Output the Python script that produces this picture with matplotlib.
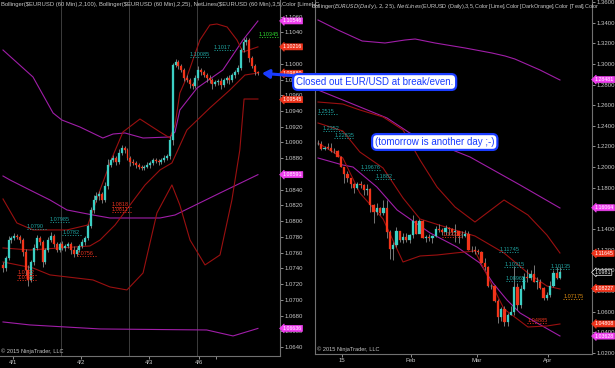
import matplotlib
matplotlib.use('Agg')
import matplotlib.pyplot as plt
from matplotlib.patches import Rectangle

# ---- 60 min EUR/USD (4/1 .. 4/7) ----
h_open0 = 1.07440
h_close = [1.07404, 1.07532, 1.07760, 1.07786, 1.07811, 1.07800, 1.07760, 1.07608, 1.07379, 1.07252,
           1.07481, 1.07659, 1.07786, 1.07735, 1.07481, 1.07633, 1.07760, 1.07811, 1.07710, 1.07633,
           1.07710, 1.07659, 1.07684, 1.07710, 1.07633, 1.07582, 1.07633, 1.07684, 1.07735, 1.07786,
           1.07939, 1.08142, 1.08269, 1.08320, 1.08345, 1.08269, 1.08447, 1.08714, 1.08778, 1.08803,
           1.08752, 1.08867, 1.08930, 1.08905, 1.08803, 1.08752, 1.08740, 1.08714, 1.08689, 1.08676,
           1.08690, 1.08714, 1.08739, 1.08778, 1.08765, 1.08752, 1.08778, 1.08803, 1.08828, 1.09032,
           1.09986, 1.10024, 1.09973, 1.09922, 1.09820, 1.09795, 1.09744, 1.09719, 1.09820, 1.09922,
           1.09897, 1.09858, 1.09820, 1.09795, 1.09744, 1.09769, 1.09780, 1.09731, 1.09795, 1.09820,
           1.09795, 1.09858, 1.09897, 1.09947, 1.10176, 1.10278, 1.10303, 1.10075, 1.09973, 1.09897,
           1.09880]
h_wick_up = [4, 3, 5, 3, 4, 3, 2, 3, 4, 6, 3, 5, 4, 3, 2, 3, 4, 5, 3, 2,
             3, 4, 2, 3, 3, 5, 4, 3, 4, 2, 3, 4, 6, 5, 4, 3, 5, 8, 3, 4,
             3, 5, 4, 3, 3, 2, 4, 3, 2, 3, 3, 4, 3, 2, 3, 2, 3, 4, 3, 5,
             3, 4, 3, 3, 2, 4, 3, 2, 4, 5, 3, 3, 2, 4, 3, 2, 3, 4, 3, 2,
             4, 3, 3, 4, 3, 5, 4, 3, 2, 3, 1]
h_wick_dn = [5, 4, 3, 4, 2, 3, 4, 5, 6, 8, 3, 4, 3, 4, 6, 3, 2, 3, 4, 3,
             2, 3, 4, 3, 5, 4, 3, 2, 3, 4, 3, 2, 4, 3, 5, 4, 3, 4, 3, 2,
             4, 3, 2, 4, 3, 5, 3, 4, 3, 2, 3, 2, 4, 3, 2, 4, 3, 2, 3, 4,
             7, 3, 4, 3, 4, 3, 5, 4, 3, 2, 4, 3, 5, 4, 6, 3, 4, 5, 3, 4,
             5, 3, 4, 3, 2, 3, 4, 5, 3, 4, 2]
h_date_ticks = [3.5, 27.6, 51.6, 69.3, 75.3]
h_date_labels = ['4/1', '4/2', '4/3', '4/6', '']
h_session_breaks = [20.5, 44.5, 68.6]

# bands: (bar index, price)
h_bb100_up = [(0, 1.10176), (10.6, 1.09833), (17.7, 1.09375), (20.8, 1.09286), (27.2, 1.09197),
              (35.3, 1.09057), (38.9, 1.09108), (43.1, 1.09121), (49.5, 1.09057), (59.0, 1.09070),
              (60.8, 1.09134), (62.5, 1.09413), (68.6, 1.09693), (77.7, 1.09922), (84.8, 1.10303),
              (90.1, 1.10545)]
h_bb100_mid = [(0, 1.08574), (2.5, 1.08523), (9.5, 1.08396), (16.6, 1.08269), (22.6, 1.08142),
               (31.8, 1.08078), (37.8, 1.08040), (55.5, 1.08040), (60.8, 1.08078), (76.7, 1.08358),
               (90.1, 1.08591)]
h_bb100_lo = [(0, 1.06718), (9.5, 1.06680), (34.3, 1.06629), (60, 1.06620), (72, 1.06616),
              (81.3, 1.06540), (88.3, 1.06616), (90.1, 1.06636)]
h_bb25_up = [(0, 1.08282), (4.9, 1.07977), (10.6, 1.07888), (22.6, 1.07888), (30, 1.07951),
             (34.3, 1.08396), (38.5, 1.08802), (42.4, 1.09134), (48.4, 1.09299), (55.5, 1.09134),
             (59, 1.09057), (60.8, 1.09223), (62.5, 1.09629), (65, 1.09833), (67.1, 1.10049),
             (69.6, 1.10303), (73.1, 1.10494), (75.6, 1.10507), (79.2, 1.10469), (82.7, 1.10303),
             (84.8, 1.10150), (90.1, 1.10216)]
h_bb25_mid = [(0, 1.07659), (9.5, 1.07633), (20.1, 1.07659), (30.7, 1.07684), (34.3, 1.07760),
              (39.6, 1.07951), (44.9, 1.08206), (50.2, 1.08460), (55.5, 1.08651), (59.7, 1.08740),
              (65, 1.09159), (73.1, 1.09439), (80.2, 1.09668), (85.5, 1.09858), (90.1, 1.09884)]
h_bb25_lo = [(0, 1.07481), (10.6, 1.07404), (16.6, 1.07316), (31.8, 1.07252), (37.8, 1.07163),
             (43.8, 1.07125), (49.5, 1.07341), (54.4, 1.08104), (59.7, 1.08460), (62.5, 1.08205),
             (66.1, 1.07760), (71.4, 1.07443), (76.7, 1.07570), (80.9, 1.08269), (83.7, 1.08905),
             (85.2, 1.09553), (90.1, 1.09553)]
h_markers = [('1.10546', 'm'), ('1.10216', 'r'), ('1.09880', 'r'), ('1.09545', 'r'),
             ('1.08591', 'm'), ('1.06636', 'm')]
h_netlabels = [('1.10345', 90.5, 'lime'), ('1.1017', 74.6, 'teal'), ('1.10085', 66.0, 'teal'),
               ('1.07985', 16.5, 'teal'), ('1.0790', 8.5, 'teal'), ('1.0782', 21.0, 'teal'),
               ('1.0732', 5.0, 'red'), ('1.0725', 5.0, 'red'), ('1.0818', 38.5, 'red'),
               ('1.0811', 38.5, 'red'), ('1.0756', 26.0, 'red')]

# ---- daily EUR/USD (12/22 .. 4/7) ----
d_open0 = 1.2226
d_close = [1.2228, 1.2180, 1.2190, 1.2188, 1.2160, 1.2155, 1.2100,
           1.2003, 1.1934, 1.1890, 1.1838, 1.1793, 1.1840, 1.1827, 1.1774, 1.1788, 1.1630, 1.1565,
           1.1605, 1.1557, 1.1608, 1.1367, 1.1205, 1.1243, 1.1380, 1.1290, 1.1320, 1.1290,
           1.1345, 1.1480, 1.1348, 1.1477, 1.1315, 1.1325, 1.1317, 1.1335, 1.1400, 1.1390, 1.1370,
           1.1410, 1.1400, 1.1375, 1.1380, 1.1330, 1.1335, 1.1350, 1.1200, 1.1195,
           1.1185, 1.1175, 1.1075, 1.1030, 1.0845, 1.0850, 1.0700, 1.0550, 1.0630, 1.0495, 1.0565,
           1.0595, 1.0835, 1.0660, 1.0820, 1.0940, 1.0925, 1.0966, 1.0890, 1.0890, 1.0830, 1.0730,
           1.0760, 1.0850, 1.0970, 1.0925, 1.0988]
d_high = [1.2262, 1.2249, 1.2200, 1.2232, 1.2232, 1.2190, 1.2168,
          1.2104, 1.1970, 1.1959, 1.1898, 1.1844, 1.1852, 1.1869, 1.1840, 1.1838, 1.1800, 1.1646,
          1.1650, 1.1612, 1.1680, 1.1680, 1.1388, 1.1270, 1.1423, 1.1385, 1.1363, 1.1364,
          1.1355, 1.1535, 1.1485, 1.1498, 1.1487, 1.1347, 1.1356, 1.1340, 1.1433, 1.1449, 1.1406,
          1.1443, 1.1423, 1.1410, 1.1450, 1.1380, 1.1385, 1.1390, 1.1382, 1.1240,
          1.1237, 1.1203, 1.1185, 1.1115, 1.1040, 1.0870, 1.0860, 1.0720, 1.0645, 1.0650, 1.0588,
          1.0650, 1.1043, 1.0880, 1.0857, 1.0971, 1.1013, 1.0999, 1.1052, 1.0936, 1.0913, 1.0835,
          1.0790, 1.0900, 1.1000, 1.1036, 1.1035]
d_low = [1.2216, 1.2165, 1.2165, 1.2180, 1.2147, 1.2135, 1.2098,
         1.2000, 1.1842, 1.1855, 1.1801, 1.1754, 1.1786, 1.1802, 1.1728, 1.1726, 1.1567, 1.1460,
         1.1540, 1.1536, 1.1540, 1.1315, 1.1114, 1.1098, 1.1225, 1.1275, 1.1262, 1.1278,
         1.1265, 1.1314, 1.1355, 1.1357, 1.1317, 1.1270, 1.1280, 1.1269, 1.1322, 1.1370, 1.1340,
         1.1338, 1.1340, 1.1340, 1.1277, 1.1260, 1.1315, 1.1320, 1.1195, 1.1178,
         1.1162, 1.1155, 1.1069, 1.1000, 1.0838, 1.0818, 1.0696, 1.0493, 1.0512, 1.0462, 1.0462,
         1.0565, 1.0570, 1.0613, 1.0635, 1.0810, 1.0889, 1.0910, 1.0886, 1.0820, 1.0815, 1.0713,
         1.0712, 1.0740, 1.0840, 1.0919, 1.0920]
d_date_ticks = [7.3, 28.4, 48.5, 70.3]
d_date_labels = ['15', 'Feb', 'Mar', 'Apr']

d_bb100_up = [(0, 1.34256), (6.1, 1.33287), (13.5, 1.32221), (20.5, 1.32027), (26.6, 1.32318),
              (29.7, 1.32415), (35.8, 1.32027), (45, 1.31543), (53.2, 1.31058), (57.2, 1.30768),
              (60.2, 1.30477), (67.9, 1.29411), (74, 1.28442)]
d_bb100_mid = [(0, 1.27473), (7.6, 1.26504), (21.1, 1.24760), (28.1, 1.23300), (46.5, 1.20981),
               (61.8, 1.18268), (74, 1.16038)]
d_bb100_lo = [(0, 1.20884), (7.6, 1.20206), (10.7, 1.20011), (18, 1.18074), (24.2, 1.15845),
              (34.3, 1.13617), (42.5, 1.12260), (49.5, 1.10710), (53.5, 1.08771), (57.8, 1.07124),
              (61.8, 1.05864), (67, 1.04895), (74, 1.03636)]
d_bb25_up = [(0, 1.26310), (7.6, 1.26116), (12.8, 1.25535), (19.9, 1.24857), (26, 1.23597),
             (31.2, 1.20690), (36.4, 1.18074), (41.9, 1.16136), (48, 1.14682), (56.9, 1.16814),
             (64.2, 1.15361), (70, 1.13423), (74, 1.11679)]
d_bb25_mid = [(0, 1.24275), (7.6, 1.23500), (12.8, 1.21465), (19.9, 1.19915), (26, 1.17008),
              (31.2, 1.14973), (41.9, 1.13907), (48, 1.13326), (56.9, 1.11679), (64.2, 1.09741),
              (70, 1.08481), (74, 1.08190)]
d_bb25_lo = [(0, 1.22337), (7.6, 1.20884), (12.8, 1.17492), (19.9, 1.14973), (26, 1.10807),
             (31.2, 1.11389), (36.4, 1.11485), (41.9, 1.11679), (48, 1.11873), (56.9, 1.06253),
             (64.2, 1.04508), (70, 1.04605), (74, 1.04800)]
d_markers = [('1.28481', 'm'), ('1.16064', 'm'), ('1.11645', 'r'), ('1.0981', 'k'), ('1.08227', 'r'),
             ('1.04808', 'r'), ('1.03628', 'm')]
d_netlabels = [('1.2515', 0.0, 'teal'), ('1.2352', 1.5, 'teal'), ('1.22835', 5.0, 'teal'),
               ('1.19676', 13.0, 'teal'), ('1.1882', 17.5, 'teal'), ('1.13225', 38.0, 'red'),
               ('1.11745', 55.5, 'teal'), ('1.10315', 57.0, 'teal'), ('1.08965', 57.5, 'teal'),
               ('1.10135', 71.0, 'teal'), ('1.04885', 64.0, 'red'), ('1.07175', 75.0, 'orange')]

UP = '#3ccfc4'
DOWN = '#f2341a'
WICK = '#8a8a8a'
PURPLE = '#a01ea8'
DARKRED = '#9a1010'
GRID = '#3c3c3c'
TXT = '#c8c8c8'
LABEL_COLORS = {'teal': '#1fa3a0', 'red': '#e8321e', 'lime': '#2ed82e', 'orange': '#d98a12'}
MARKER_COLORS = {'m': ('#f040f0', 'white'), 'r': ('#f0341c', 'white'), 'k': ('black', 'white')}

plt.rcParams['font.family'] = ['Liberation Sans', 'DejaVu Sans']


def draw_candles(ax, opens, highs, lows, closes, width=0.7):
    for i, (o, h, l, c) in enumerate(zip(opens, highs, lows, closes)):
        ax.vlines(i, l, h, color=WICK, lw=0.6, zorder=3)
        col = UP if c >= o else DOWN
        body = max(abs(c - o), (highs[i] - lows[i]) * 0.04 + 1e-5)
        ax.add_patch(Rectangle((i - width / 2, min(o, c)), width, body,
                               facecolor=col, edgecolor=col, lw=0.2, zorder=4))


def draw_band(ax, pts, color):
    ax.plot([p[0] for p in pts], [p[1] for p in pts], color=color, lw=0.8, zorder=2)


def style_axes(ax, xlim, ylim, yticks, fmt):
    ax.set_facecolor('black')
    ax.set_xlim(*xlim)
    ax.set_ylim(*ylim)
    ax.yaxis.tick_right()
    ax.set_yticks(yticks)
    ax.set_yticklabels([fmt % t for t in yticks])
    ax.tick_params(axis='y', colors=TXT, labelsize=4.3, length=2, width=0.5, pad=1)
    ax.tick_params(axis='x', colors=TXT, labelsize=4.3, length=2, width=0.5, pad=1)
    ax.spines['top'].set_visible(False)
    for s in ['left', 'right', 'bottom']:
        ax.spines[s].set_color('#707070')
        ax.spines[s].set_linewidth(0.8)


def draw_markers(ax, markers):
    for txt, kind in markers:
        fc, tc = MARKER_COLORS[kind]
        ec = 'white' if kind == 'k' else fc
        ax.annotate(txt, xy=(1.0, float(txt)), xycoords=ax.get_yaxis_transform(),
                    xytext=(2.0, 0), textcoords='offset points', va='center', ha='left',
                    fontsize=3.75, color=tc, annotation_clip=False, zorder=10,
                    bbox=dict(boxstyle='larrow,pad=0.1', fc=fc, ec=ec, lw=0.5))


def draw_netlabels(ax, labels, length):
    for txt, x, col in labels:
        val = float(txt)
        c = LABEL_COLORS[col]
        ax.text(x, val, txt, color=c, fontsize=4.0, ha='left', va='bottom', zorder=6)
        ax.plot([x, x + length], [val, val], ls=':', color=c, lw=0.7, zorder=6)


fig = plt.figure(figsize=(6.15, 3.68), dpi=100, facecolor='black')

# ----- left: 60 minute chart -----
ax1 = fig.add_axes([0 / 615, 12 / 368, 280 / 615, 356 / 368])
ax1.set_zorder(5)
style_axes(ax1, (-1.06, 97.9), (1.06285, 1.10812),
           [1.0640 + 0.002 * k for k in range(22)], '%.4f')
ax1.spines['left'].set_visible(False)
h_open = [h_open0] + h_close[:-1]
h_high = [max(o, c) + u * 0.0001 for o, c, u in zip(h_open, h_close, h_wick_up)]
h_low = [min(o, c) - d * 0.0001 for o, c, d in zip(h_open, h_close, h_wick_dn)]
for xb in h_session_breaks:
    ax1.axvline(xb, color=GRID, lw=0.7, zorder=1)
for pts, col in [(h_bb100_up, PURPLE), (h_bb100_mid, PURPLE), (h_bb100_lo, PURPLE),
                 (h_bb25_up, DARKRED), (h_bb25_mid, DARKRED), (h_bb25_lo, DARKRED)]:
    draw_band(ax1, pts, col)
draw_candles(ax1, h_open, h_high, h_low, h_close)
draw_netlabels(ax1, h_netlabels, 7)
draw_markers(ax1, h_markers)
ax1.set_xticks(h_date_ticks)
ax1.set_xticklabels(h_date_labels)
ax1.text(0.003, 0.995, 'Bollinger($EURUSD (60 Min),2,100), Bollinger($EURUSD (60 Min),2,25), '
         'NetLines($EURUSD (60 Min),3,5,Color [Lime],C',
         transform=ax1.transAxes, fontsize=4.25, color=TXT, va='top', ha='left', clip_on=False)
ax1.text(0.003, 0.006, '\u00a9 2015 NinjaTrader, LLC', transform=ax1.transAxes,
         fontsize=4.1, color=TXT, va='bottom', ha='left')

# ----- right: daily chart -----
ax2 = fig.add_axes([315 / 615, 14 / 368, 277 / 615, 354 / 368])
style_axes(ax2, (-0.92, 83.8), (1.01891, 1.36194),
           [1.02 + 0.02 * k for k in range(18)], '%.4f')
d_open = [d_open0] + d_close[:-1]
for pts, col in [(d_bb100_up, PURPLE), (d_bb100_mid, PURPLE), (d_bb100_lo, PURPLE),
                 (d_bb25_up, DARKRED), (d_bb25_mid, DARKRED), (d_bb25_lo, DARKRED)]:
    draw_band(ax2, pts, col)
draw_candles(ax2, d_open, d_high, d_low, d_close)
draw_netlabels(ax2, d_netlabels, 6)
draw_markers(ax2, d_markers)
ax2.set_xticks(d_date_ticks)
ax2.set_xticklabels(d_date_labels)
ax2.text(-0.015, 0.995, 'Bollinger($EURUSD (Daily),2,25), NetLines($EURUSD (Daily),3,5,Color [Lime],'
         'Color [DarkOrange],Color [Teal],Color', transform=ax2.transAxes, fontsize=3.95,
         color=TXT, va='top', ha='left')
ax2.text(0.006, 0.006, '\u00a9 2015 NinjaTrader, LLC', transform=ax2.transAxes,
         fontsize=4.1, color=TXT, va='bottom', ha='left')

# ----- callouts -----
box = dict(boxstyle='round,pad=0.3,rounding_size=0.5', fc='white', ec='#1a3cff', lw=1.6)
ax1.annotate('Closed out EUR/USD at break/even.', xy=(91.5, h_close[-1]), xycoords='data',
             xytext=(296, 368 - 82), textcoords='figure pixels', fontsize=7, color='#1a3cff',
             va='center', ha='left', bbox=box, annotation_clip=False, zorder=20,
             arrowprops=dict(arrowstyle='-|>,head_width=0.35,head_length=0.6', color='#1a3cff',
                             lw=2.2, shrinkA=0, shrinkB=0))
fig.text(375 / 615, 1 - 142 / 368, '(tomorrow is another day ;-)', fontsize=7, color='#1a3cff',
         va='center', ha='left', bbox=box, zorder=20)

fig.savefig('out.png', dpi=100, facecolor='black')
